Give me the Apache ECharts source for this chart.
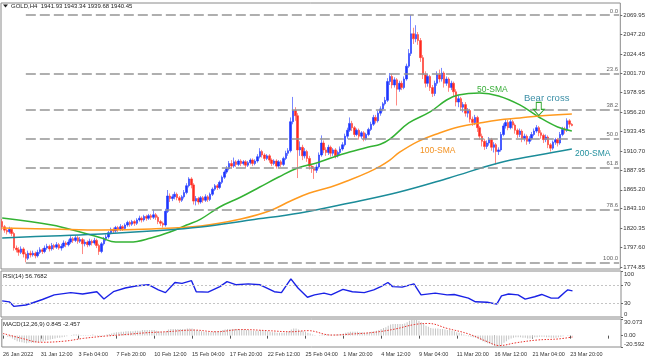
<!DOCTYPE html>
<html><head><meta charset="utf-8">
<script src="https://cdn.jsdelivr.net/npm/echarts@6/dist/echarts.min.js"></script>
<style>html,body{margin:0;padding:0;background:#fff}#c{width:648px;height:360px}</style>
</head><body><div id="c"></div>
<script>
const timeLabels = ['26 Jan 2022','31 Jan 12:00','3 Feb 04:00','7 Feb 20:00','10 Feb 12:00','15 Feb 04:00','17 Feb 20:00','22 Feb 12:00','25 Feb 04:00','1 Mar 20:00','4 Mar 12:00','9 Mar 04:00','11 Mar 20:00','16 Mar 12:00','21 Mar 04:00','23 Mar 20:00'];
const priceTicks = [2069.95,2047.20,2024.45,2001.70,1978.95,1956.20,1933.45,1910.70,1887.95,1865.20,1843.10,1820.35,1797.60,1774.85];
const rsiTicks = [0,30,70,100];
const macdTicks = [-20.592,0,30.073];

const firstOpen = 1828;
const closes = [1822,1818,1816,1819,1814,1797,1795,1792,1796,1790,
1785,1791,1789,1791,1788,1792,1795,1793,1797,1799,
1796,1800,1798,1801,1797,1799,1803,1801,1804,1808,
1806,1809,1805,1807,1802,1804,1801,1805,1803,1806,
1800,1793,1802,1808,1810,1815,1819,1817,1821,1819,
1822,1820,1824,1827,1825,1828,1826,1830,1832,1830,
1834,1832,1835,1833,1836,1833,1828,1826,1824,1840,
1858,1855,1857,1860,1856,1853,1857,1862,1870,1878,
1871,1852,1855,1851,1856,1853,1857,1854,1860,1866,
1870,1868,1874,1880,1886,1890,1896,1893,1898,1895,
1899,1896,1898,1894,1897,1900,1896,1899,1904,1910,
1906,1902,1905,1900,1896,1899,1893,1898,1895,1902,
1908,1911,1945,1958,1952,1912,1915,1905,1910,1902,
1893,1890,1888,1892,1906,1920,1912,1909,1915,1908,
1912,1905,1909,1913,1918,1928,1935,1943,1938,1930,
1935,1928,1932,1925,1930,1936,1942,1950,1946,1955,
1960,1966,1970,1992,1998,1988,1994,1983,1990,1985,
1995,2010,2025,2048,2042,2047,2040,2020,2000,1990,
1998,1985,1978,1990,2000,1995,2002,1990,1995,1985,
1990,1980,1968,1972,1962,1965,1955,1958,1948,1944,
1950,1938,1928,1922,1916,1920,1924,1915,1918,1910,
1912,1930,1940,1944,1938,1945,1941,1935,1930,1934,
1925,1928,1922,1925,1930,1934,1938,1932,1929,1924,
1927,1918,1914,1921,1924,1920,1930,1936,1935,1946,
1941.93,1940.45];
const highs = [1831,1824,1820,1822,1821,1816,1800,1798,1799,1798,
1792,1794,1794,1794,1793,1795,1798,1797,1800,1802,
1801,1803,1802,1804,1803,1802,1806,1805,1807,1811,
1810,1812,1811,1810,1809,1807,1806,1808,1807,1809,
1808,1802,1804,1810,1813,1817,1821,1821,1823,1823,
1825,1824,1826,1829,1829,1830,1830,1832,1835,1834,
1836,1836,1837,1837,1842,1838,1835,1830,1828,1843,
1865,1861,1860,1863,1862,1858,1859,1865,1873,1880,
1880,1873,1858,1857,1858,1858,1860,1859,1862,1868,
1872,1872,1876,1882,1888,1893,1899,1900,1903,1900,
1901,1901,1900,1900,1899,1902,1902,1901,1907,1914,
1912,1908,1907,1907,1902,1901,1901,1900,1900,1904,
1911,1914,1950,1974,1962,1955,1922,1918,1914,1912,
1905,1895,1893,1895,1909,1929,1923,1915,1918,1917,
1914,1914,1911,1916,1921,1931,1938,1950,1946,1940,
1937,1937,1934,1934,1932,1938,1945,1953,1953,1958,
1963,1968,1974,1996,2002,2001,1997,1996,1993,1993,
1998,2013,2030,2069.95,2055,2058,2050,2043,2023,2004,
2001,2000,1988,1993,2004,2006,2008,2004,1998,1997,
1993,1992,1983,1976,1974,1968,1968,1961,1960,1951,
1953,1952,1940,1931,1925,1923,1927,1926,1921,1920,
1915,1933,1943,1948,1947,1948,1947,1943,1937,1937,
1936,1931,1930,1928,1933,1937,1941,1940,1935,1931,
1930,1929,1920,1923,1926,1926,1933,1939,1939,1949,
1948,1943.34];
const lows = [1818,1815,1813,1814,1811,1794,1792,1788,1790,1786,
1780.4,1783,1786,1787,1785,1786,1790,1790,1791,1795,
1793,1794,1795,1796,1795,1794,1797,1798,1799,1802,
1803,1804,1802,1803,1790,1799,1798,1799,1800,1801,
1797,1789,1791,1800,1805,1808,1813,1814,1815,1816,
1817,1817,1818,1822,1822,1823,1823,1824,1828,1827,
1828,1829,1830,1830,1831,1830,1825,1823,1821,1822,
1838,1851,1852,1854,1853,1850,1851,1855,1860,1868,
1867,1848,1847,1848,1849,1850,1851,1851,1852,1858,
1864,1865,1866,1872,1878,1884,1888,1890,1891,1892,
1893,1893,1894,1891,1892,1895,1893,1894,1897,1902,
1903,1899,1900,1897,1893,1894,1890,1891,1892,1893,
1900,1905,1909,1942,1946,1879,1905,1900,1902,1898,
1889,1885,1878,1885,1890,1904,1908,1905,1906,1904,
1905,1902,1903,1906,1911,1916,1925,1933,1934,1927,
1928,1924,1925,1922,1923,1928,1934,1940,1943,1944,
1952,1957,1964,1968,1988,1984,1985,1964,1980,1982,
1983,1993,2008,2022,2036,2038,2035,2015,1995,1985,
1986,1981,1974,1975,1987,1991,1992,1985,1987,1980,
1982,1975,1963,1962,1958,1956,1951,1950,1944,1940,
1941,1933,1924,1916,1912,1913,1917,1911,1909,1895,
1906,1910,1928,1937,1935,1936,1937,1931,1926,1927,
1921,1922,1918,1919,1923,1928,1932,1928,1925,1920,
1921,1914,1910,1912,1918,1916,1918,1928,1931,1933,
1938,1939.68];

const sma50 = [[0,1832.2],[21,1824],[33,1815.8],[42,1808.8],[48,1804.1],[54,1804.1],[63,1808.8],[71,1815.8],[78,1824],[84,1831],[92,1845.1],[101,1856.8],[109,1868.5],[117,1880.2],[125,1890.8],[133,1896.6],[139,1902.5],[147,1909.5],[155,1915.4],[160,1918.5],[164,1924.5],[172,1943.5],[181,1956.4],[188,1970.4],[193,1976.3],[202,1978.6],[210,1975.1],[219,1964.6],[227,1950.5],[235,1938.8],[241,1934.1]];
const sma100 = [[0,1820.5],[21,1819.4],[42,1818.2],[63,1819.4],[84,1822.9],[101,1831.1],[113,1840.4],[122,1852.1],[130,1861.5],[139,1868.5],[147,1876.7],[155,1886],[160,1893],[164,1900],[168,1909],[176,1922],[185,1931.8],[193,1938.8],[202,1943.5],[210,1947],[219,1949.3],[227,1951.7],[241,1954]];
const sma200 = [[0,1808.8],[21,1811.2],[42,1813.5],[63,1817],[84,1821.7],[105,1829.9],[126,1838.1],[147,1849.8],[168,1862.7],[189,1879.1],[210,1896.6],[227,1906],[241,1913]];

const rsi = [[0,35],[3,33],[5,23],[10,26],[13,31],[17,38],[22,48],[29,53],[34,50],[40,55],[43,39],[47,55],[52,63],[57,68],[62,70],[66,59],[69,53],[73,75],[76,73],[80,79],[82,55],[87,54],[92,66],[95,77],[99,70],[104,72],[109,70],[115,55],[118,53],[122,83],[125,63],[129,43],[132,48],[136,52],[139,48],[144,60],[148,55],[153,53],[157,59],[160,66],[163,75],[165,66],[169,65],[174,72],[177,48],[183,52],[188,48],[191,49],[197,41],[200,33],[205,32],[209,28],[211,46],[214,50],[218,48],[221,39],[225,44],[228,49],[232,41],[235,41],[238,55],[239,59],[241,56.77]];

const macdMain = [2,0,-2,-3,-5,-8,-10,-11,-12,-13,
-14,-13,-13,-13,-12,-12,-11,-10,-9,-8,
-7,-6,-5,-4,-4,-3,-2,-1,0,1,
2,2,2,1,1,1,1,1,2,1,
-1,-2,-1,1,2,3,4,5,6,6,
7,7,8,8,8,8,9,9,9,10,
10,10,10,10,10,9,8,7,6,8,
11,12,12,12,12,12,12,12,13,13,
13,11,10,9,8,7,7,6,6,7,
8,8,9,10,11,12,12,12,12,12,
12,11,11,10,10,9,9,9,9,10,
9,9,8,7,6,6,5,5,5,5,
6,8,11,13,13,11,9,8,7,5,
4,2,1,0,1,2,2,2,2,2,
2,2,2,3,4,5,6,7,7,7,
7,6,6,5,5,6,7,8,9,10,
12,14,15,18,20,21,21,21,21,21,
22,24,27,30,30.073,29,27,24,21,18,
16,14,13,13,13,12,12,11,10,10,
9,8,6,5,4,2,1,-1,-2,-3,
-4,-6,-8,-10,-12,-14,-15,-17,-19,-20.592,
-20,-17,-13,-10,-7,-5,-4,-3,-3,-3,
-4,-4,-5,-5,-4,-3,-3,-2,-2,-2,
-3,-3,-4,-4,-4,-3,-2,-1,0,1,
1,0.845];
const macdSignal = [[0,4],[8,-5],[16,-12],[26,-10],[34,-5],[43,-1],[52,2],[60,5],[69,7],[81,10],[90,7],[101,11],[112,9],[122,7],[129,9],[139,1],[148,3],[157,6],[166,12],[174,20],[180,22],[188,13],[197,3],[205,-11],[210,-18],[217,-13],[226,-8],[235,-6],[241,-2.457]];

const fibHigh = 2069.95, fibLow = 1780.40, fibStart = 10;
const fibLevels = [0, 23.6, 38.2, 50, 61.8, 78.6, 100];
const lastPrice = 1940.45;
const N = 262;

const FONT = '"Liberation Sans", Arial, sans-serif';
const cats = Array.from({length: N}, (_, i) => String(i));
const candles = closes.map((c, i) => [i === 0 ? firstOpen : closes[i - 1], c, lows[i], highs[i]]);

const fibLines = fibLevels.map(l => {
  const p = fibHigh - (fibHigh - fibLow) * l / 100;
  return [{coord: [fibStart, p], name: l.toFixed(1)}, {coord: [N - 1, p]}];
});

const chart = echarts.init(document.getElementById('c'), null, {renderer: 'canvas'});
const yCommon = {
  position: 'right', scale: true,
  axisLine: {show: false}, splitLine: {show: false},
  axisTick: {show: true, length: 2, lineStyle: {color: '#666'}},
  axisLabel: {fontSize: 6, color: '#333', margin: 3, fontFamily: FONT}
};
chart.setOption({
  animation: false,
  backgroundColor: '#fff',
  grid: [
    {left: 1, right: 27, top: 3, height: 266, show: true, borderColor: '#8a8a8a', borderWidth: 1},
    {left: 1, right: 27, top: 271, height: 46, show: true, borderColor: '#8a8a8a', borderWidth: 1},
    {left: 1, right: 27, top: 319, height: 28, show: true, borderColor: '#8a8a8a', borderWidth: 1}
  ],
  xAxis: [0, 1, 2].map(g => ({
    type: 'category', gridIndex: g, data: cats, boundaryGap: true,
    axisLine: {show: false},
    axisTick: g === 2 ? {show: true, alignWithLabel: true, length: 3, interval: (i) => i % 16 === 0, lineStyle: {color: '#555'}} : {show: false},
    axisLabel: g === 2 ? {show: true, interval: (i) => i % 16 === 0, formatter: (v, i) => timeLabels[i / 16] || '', align: 'left', fontSize: 5.5, color: '#333', margin: 4, fontFamily: FONT} : {show: false},
    splitLine: {show: false}
  })),
  yAxis: [
    Object.assign({}, yCommon, {gridIndex: 0, min: 1772.5, max: 2084,
      axisLabel: Object.assign({}, yCommon.axisLabel, {customValues: priceTicks, formatter: v => v.toFixed(2)}),
      axisTick: Object.assign({}, yCommon.axisTick, {customValues: priceTicks})}),
    Object.assign({}, yCommon, {gridIndex: 1, min: 0, max: 100,
      axisLabel: Object.assign({}, yCommon.axisLabel, {customValues: rsiTicks, verticalAlignMinLabel: 'bottom', verticalAlignMaxLabel: 'top'}),
      axisTick: Object.assign({}, yCommon.axisTick, {customValues: rsiTicks})}),
    Object.assign({}, yCommon, {gridIndex: 2, min: -20.592, max: 30.073,
      axisLabel: Object.assign({}, yCommon.axisLabel, {customValues: macdTicks, verticalAlignMinLabel: 'bottom', verticalAlignMaxLabel: 'top', formatter: v => v === 0 ? '0.00' : String(v)}),
      axisTick: Object.assign({}, yCommon.axisTick, {customValues: macdTicks})})
  ],
  series: [
    {
      type: 'candlestick', xAxisIndex: 0, yAxisIndex: 0, data: candles, barWidth: 2,
      itemStyle: {color: '#1d35ff', color0: '#ff2a1f', borderColor: '#1d35ff', borderColor0: '#ff3a30', borderWidth: 0.6},
      markLine: {
        silent: true, symbol: ['none', 'none'], animation: false,
        lineStyle: {color: '#959595', width: 1.6, type: [10, 4]},
        label: {show: true, position: 'insideEndTop', formatter: '{b}', fontSize: 6, color: '#666', distance: 1, fontFamily: FONT},
        data: fibLines.concat([{yAxis: lastPrice, lineStyle: {opacity: 0}, label: {position: 'end', formatter: lastPrice.toFixed(2), backgroundColor: '#000', color: '#fff', padding: [2, 2, 1, 2], distance: 1, fontSize: 6}}])
      },
      markPoint: {
        silent: true,
        data: [{coord: [227, 1960], symbol: 'path://M3,0 L8,0 L8,7 L11,7 L5.5,13 L0,7 L3,7 Z', symbolSize: [11, 13],
          itemStyle: {color: 'rgba(255,255,255,0)', borderColor: '#2fa52f', borderWidth: 1}, label: {show: false}}]
      }
    },
    {type: 'line', xAxisIndex: 0, yAxisIndex: 0, data: sma50, smooth: 0.4, showSymbol: false, lineStyle: {color: '#33b233', width: 1.5}},
    {type: 'line', xAxisIndex: 0, yAxisIndex: 0, data: sma100, smooth: 0.4, showSymbol: false, lineStyle: {color: '#ff9a1f', width: 1.5}},
    {type: 'line', xAxisIndex: 0, yAxisIndex: 0, data: sma200, smooth: 0.4, showSymbol: false, lineStyle: {color: '#1b8c99', width: 1.5}},
    {
      type: 'line', xAxisIndex: 1, yAxisIndex: 1, data: rsi, showSymbol: false, lineStyle: {color: '#1a22e6', width: 1.4},
      markLine: {silent: true, symbol: ['none', 'none'], label: {show: false},
        lineStyle: {color: '#c4c4c4', width: 1, type: [2, 2]}, data: [{yAxis: 70}, {yAxis: 30}]}
    },
    {type: 'bar', xAxisIndex: 2, yAxisIndex: 2, data: macdMain, barWidth: 1, itemStyle: {color: '#c4c4c4'}},
    {type: 'line', xAxisIndex: 2, yAxisIndex: 2, data: macdSignal, smooth: 0.4, showSymbol: false, lineStyle: {color: '#e8312b', width: 1, type: [1.5, 1.5]}}
  ],
  graphic: {elements: [
    {type: 'polygon', shape: {points: [[3, 4.5], [8, 4.5], [5.5, 7.5]]}, style: {fill: '#222'}},
    {type: 'text', x: 11, y: 6, style: {text: 'GOLD,H4  1941.93 1943.34 1939.68 1940.45', font: '6px ' + FONT, fill: '#222', verticalAlign: 'middle'}},
    {type: 'text', x: 3, y: 276.5, style: {text: 'RSI(14) 56.7682', font: '6px ' + FONT, fill: '#222', verticalAlign: 'middle'}},
    {type: 'text', x: 3, y: 324.5, style: {text: 'MACD(12,26,9) 0.845 -2.457', font: '6px ' + FONT, fill: '#222', verticalAlign: 'middle'}},
    {type: 'text', x: 477, y: 89.5, style: {text: '50-SMA', font: '8.5px ' + FONT, fill: '#3aae3a', verticalAlign: 'middle'}},
    {type: 'text', x: 420, y: 151, style: {text: '100-SMA', font: '8.5px ' + FONT, fill: '#f39222', verticalAlign: 'middle'}},
    {type: 'text', x: 575, y: 154, style: {text: '200-SMA', font: '8.5px ' + FONT, fill: '#23909e', verticalAlign: 'middle'}},
    {type: 'text', x: 524, y: 98.5, style: {text: 'Bear cross', font: '9.5px ' + FONT, fill: '#3a8ea6', verticalAlign: 'middle'}}
  ]}
});
</script>
</body></html>
